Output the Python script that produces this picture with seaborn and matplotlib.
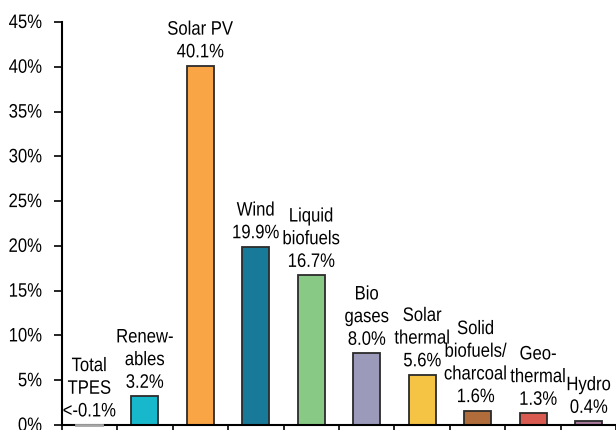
import matplotlib
matplotlib.use("Agg")
import matplotlib.pyplot as plt
import seaborn as sns
import pandas as pd
from matplotlib.patheffects import AbstractPathEffect
from matplotlib.transforms import Affine2D

# Average annual growth rates by source
categories = ["Total\nTPES", "Renew-\nables", "Solar PV", "Wind", "Liquid\nbiofuels",
              "Bio\ngases", "Solar\nthermal", "Solid\nbiofuels/\ncharcoal", "Geo-\nthermal", "Hydro"]
growth = [-0.1, 3.2, 40.1, 19.9, 16.7, 8.0, 5.6, 1.6, 1.3, 0.4]
prefixes = ["<", "", "", "", "", "", "", "", "", ""]
colors = ["#a6a6a6", "#17b8cb", "#f9a445", "#187a98", "#88c985",
          "#9c9aba", "#f5c445", "#b06d3b", "#d95a50", "#a8799c"]
y_ticks = [0, 5, 10, 15, 20, 25, 30, 35, 40, 45]

# small horizontal nudges (points) for crowded labels
label_dx = [0, 0, 0, 0, 0, 0, 0, -1.5, 3.5, 0]


class TallGlyphs(AbstractPathEffect):
    """Draw text glyphs stretched vertically from their baseline (narrow-font look)."""

    def __init__(self, sy=1.17):
        super().__init__()
        self.sy = sy

    def draw_path(self, renderer, gc, tpath, affine, rgbFace=None):
        y0 = affine.transform((0, 0))[1]
        tall = affine + Affine2D().translate(0, -y0).scale(1, self.sy).translate(0, y0)
        renderer.draw_path(gc, tpath, tall, rgbFace)


sns.set_style("ticks")
plt.rcParams["font.family"] = ["Liberation Sans", "DejaVu Sans"]

df = pd.DataFrame({"source": categories, "growth": growth})

fig = plt.figure(figsize=(6.16, 4.30), dpi=100)
ax = fig.add_axes([61.5 / 616, 5 / 430, 555 / 616, 403 / 430])

sns.barplot(data=df, x="source", y="growth", hue="source", palette=colors,
            saturation=1, width=0.49, edgecolor="#2b2b2b", linewidth=1.3,
            legend=False, ax=ax)

# the near-zero total bar reads as a thin grey line on the axis
for patch in ax.patches:
    if patch.get_height() < 0:
        patch.set_edgecolor("#a6a6a6")
        patch.set_zorder(3)
        patch.set_clip_on(False)

for i, (v, p) in enumerate(zip(growth, prefixes)):
    ax.annotate(f"{categories[i]}\n{p}{v:.1f}%", xy=(i, max(v, 0)),
                xytext=(label_dx[i], 4), textcoords="offset points",
                ha="center", va="bottom", fontsize=12, linespacing=1.64,
                color="black", path_effects=[TallGlyphs(1.17)])

ax.set_xlim(-0.5, len(categories) - 0.5)
ax.set_ylim(0, 45)
ax.set_yticks(y_ticks)
ax.set_yticklabels([f"{t}%" for t in y_ticks], fontsize=12)
ax.set_xticks([i - 0.5 for i in range(len(categories) + 1)])
ax.set_xticklabels([])
ax.set_xlabel("")
ax.set_ylabel("")
ax.tick_params(axis="y", length=6, width=1.2, pad=8, colors="black")
ax.tick_params(axis="x", length=6, width=1.2, colors="black")
for lbl in ax.get_yticklabels():
    lbl.set_path_effects([TallGlyphs(1.17)])
for s in ["top", "right"]:
    ax.spines[s].set_visible(False)
for s in ["left", "bottom"]:
    ax.spines[s].set_linewidth(1.5)
    ax.spines[s].set_color("black")

fig.savefig("out.png", dpi=100)
